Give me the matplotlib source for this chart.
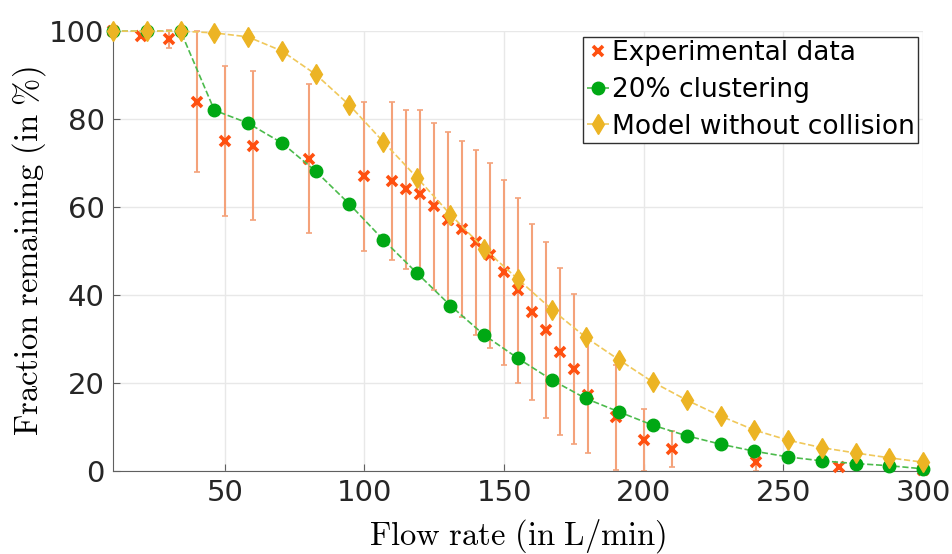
import numpy as np
import matplotlib.pyplot as plt

# Dados experimentais (vazão, fração restante e barra de erro)
exp_x = [10, 20, 30, 40, 50, 60, 80, 100, 110, 115, 120, 125, 130, 135, 140,
         145, 150, 155, 160, 165, 170, 175, 180, 190, 200, 210, 240, 270, 300]
exp_y = [100, 99, 98.2, 84, 75, 74, 71, 67, 66, 64, 63, 60.2, 57.1, 55, 52,
         49, 45.2, 41.1, 36.1, 32, 27.1, 23.2, 17.3, 12.2, 7, 5, 2, 1, 0.3]
exp_err = [0, 0, 2, 16, 17, 17, 17, 17, 18, 18, 19, 19, 20, 20, 21,
           21, 21, 21, 20, 20, 19, 17, 13.3, 12, 7, 4, 2, 0, 0]

# Pontos dos modelos
mod_x = [10, 22.1, 34.2, 46.3, 58.3, 70.4, 82.5, 94.6, 106.7, 118.8, 130.8,
         142.9, 155, 167.1, 179.2, 191.3, 203.3, 215.4, 227.5, 239.6, 251.7,
         263.8, 275.8, 287.9, 300]
clust_y = [100, 100, 100, 82, 79.1, 74.6, 68.2, 60.7, 52.6, 45, 37.6, 30.9,
           25.6, 20.7, 16.5, 13.4, 10.4, 8, 6.1, 4.5, 3.2, 2.3, 1.7, 1.2, 0.5]
nocol_y = [100, 100, 100, 99.6, 98.7, 95.5, 90.2, 83.2, 74.9, 66.7, 58.3,
           50.5, 43.6, 36.7, 30.4, 25.2, 20.2, 16.1, 12.5, 9.3, 7, 5.3, 4.1,
           3, 2]

plt.rcParams['mathtext.fontset'] = 'cm'

fig = plt.figure(figsize=(9.52, 5.54), dpi=100)
ax = fig.add_axes([0.1187, 0.1498, 0.851, 0.794])

ax.errorbar(exp_x, exp_y, yerr=exp_err, fmt='none', ecolor='#f4a27a',
            elinewidth=1.5, capsize=2.5, capthick=1.2, clip_on=False, zorder=2)
ax.plot(exp_x, exp_y, 'x', color='#ff5010', ms=7, mew=2.6,
        label='Experimental data', clip_on=False, zorder=3)
ax.plot(mod_x, clust_y, '--', color='#4cbb4c', lw=1.2, marker='o', ms=9,
        mfc='#00a814', mec='#00a814', label='20% clustering', clip_on=False,
        zorder=4)
ax.plot(mod_x, nocol_y, '--', color='#f0c85a', lw=1.2, marker='d', ms=10.5,
        mfc='#ecb424', mec='#ecb424', label='Model without collision',
        clip_on=False, zorder=5)

ax.set_xlim(10, 300)
ax.set_ylim(0, 100)
ax.set_xticks([50, 100, 150, 200, 250, 300])
ax.set_yticks([0, 20, 40, 60, 80, 100])
ax.grid(True, color='#e8e8e8', lw=1)
ax.set_axisbelow(True)
for s in ['top', 'right']:
    ax.spines[s].set_visible(False)
for s in ['left', 'bottom']:
    ax.spines[s].set_color('#606060')
ax.tick_params(direction='in', length=5, color='#606060', labelsize=21,
               labelcolor='#262626', pad=6)

ax.set_xlabel(r'$\mathrm{Flow\ rate\ (in\ L/min)}$', fontsize=23.5, labelpad=7)
ax.set_ylabel(r'$\mathrm{Fraction\ remaining\ (in\ \%)}$', fontsize=23.5,
              labelpad=1)

leg = ax.legend(loc='upper right', bbox_to_anchor=(0.994, 0.986), fontsize=19,
                handlelength=0.85, handletextpad=0.12, borderpad=0.12,
                labelspacing=0.4, fancybox=False, edgecolor='#303030',
                framealpha=1, borderaxespad=0)
leg.get_frame().set_linewidth(1)

plt.savefig('out.png', dpi=100)
